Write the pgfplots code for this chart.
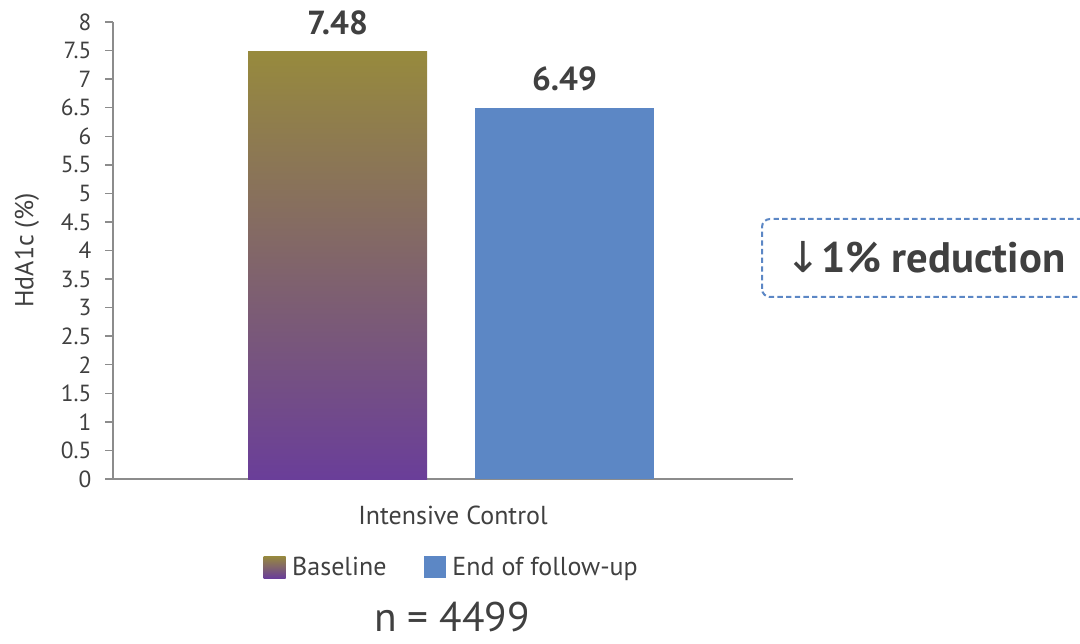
\documentclass[border=0pt]{standalone}
\usepackage{fontspec}
\setmainfont{PT Sans}
\newfontfamily\symfont{DejaVu Sans}
\usepackage{pgfplots}
\pgfplotsset{compat=1.18}
\definecolor{txt}{HTML}{404040}
\definecolor{olive}{HTML}{978A3D}
\definecolor{purp}{HTML}{6A3E99}
\definecolor{blu}{HTML}{5C87C5}
\definecolor{axgray}{HTML}{8C8C8C}
\begin{document}
\begin{tikzpicture}
\path[use as bounding box] (0,0) rectangle (810pt,482.25pt);
\begin{axis}[
  at={(84.75pt,123pt)}, anchor=south west,
  scale only axis, width=510pt, height=342.75pt,
  xmin=0, xmax=680, ymin=0, ymax=8,
  axis x line=bottom, axis y line=left,
  axis line style={axgray, line width=1.1pt, -},
  ytick={0,0.5,1,1.5,2,2.5,3,3.5,4,4.5,5,5.5,6,6.5,7,7.5,8},
  xtick={340}, xticklabels={Intensive Control},
  major x tick style={draw=none},
  major y tick style={axgray, line width=1.1pt},
  tick align=outside, major tick length=6pt,
  /pgf/number format/assume math mode=true,
  tick label style={font=\fontsize{17.5}{17.5}\selectfont, text=txt},
  yticklabel style={inner sep=0pt, xshift=-10pt},
  xticklabel style={font=\fontsize{19.5}{19.5}\selectfont, inner sep=0pt, yshift=-14pt},
  ylabel={HdA1c (\%)},
  ylabel style={at={(axis description cs:-0.1265,0.5)}, anchor=center, font=\fontsize{19.5}{19.5}\selectfont, text=txt},
  ybar, bar width=134.25pt, bar shift=0pt,
  nodes near coords,
  every node near coord/.append style={font=\bfseries\fontsize{25}{25}\selectfont, text=txt, anchor=south, inner sep=0pt, yshift=12.5pt},
  legend columns=2,
  legend style={at={(axis description cs:0.4985,-0.1926)}, anchor=center, draw=none, fill=none,
    font=\fontsize{19.5}{19.5}\selectfont, text=txt,
    /tikz/every odd column/.append style={column sep=3pt},
    /tikz/every even column/.append style={column sep=26pt}},
  legend image code/.code={\path[#1, draw=none] (0pt,-8.25pt) rectangle (16.5pt,8.25pt);},
]
\addplot[draw=none, top color=olive, bottom color=purp] coordinates {(224.5,7.48)};
\addlegendentry{Baseline}
\addplot[draw=none, fill=blu] coordinates {(451.5,6.49)};
\addlegendentry{End of follow-up}
\end{axis}
\draw[blu, line width=1.5pt, dash pattern=on 4pt off 2.5pt, rounded corners=6pt] (571.5pt,259.5pt) rectangle (830pt,318pt);
\node[anchor=base west, inner sep=0pt, text=txt, font=\bfseries\fontsize{32}{32}\selectfont] at (588.75pt,277.5pt) {{\symfont\mdseries ↓}1\% reduction};
\node[anchor=base, inner sep=0pt, text=txt, font=\fontsize{31}{31}\selectfont] at (339pt,8.5pt) {n = 4499};
\end{tikzpicture}
\end{document}
